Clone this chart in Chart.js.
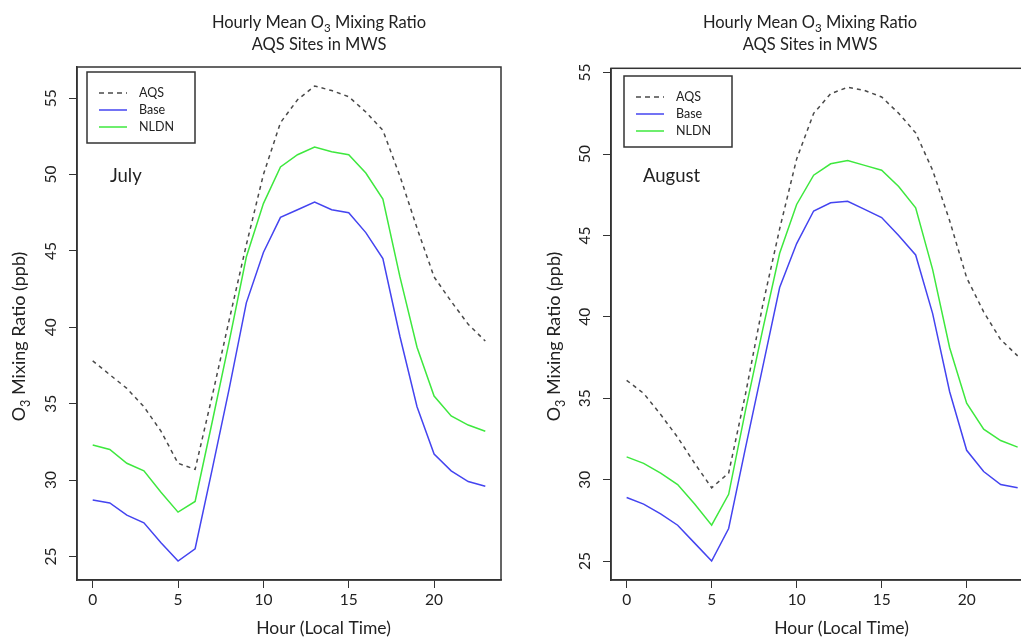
<!DOCTYPE html>
<html>
<head>
<meta charset="utf-8">
<title>Hourly Mean O3 Mixing Ratio - AQS Sites in MWS</title>
<script src="https://cdn.jsdelivr.net/npm/chart.js"></script>
<style>
  html, body { margin: 0; padding: 0; background: #fff; overflow: hidden; width: 1021px; height: 639px; }
  canvas { position: absolute; top: 0; }
  #julyChart { left: 0; }
  #augChart { left: 520px; }
</style>
</head>
<body>
<canvas id="julyChart" width="510" height="639"></canvas>
<canvas id="augChart" width="530" height="639"></canvas>
<script>
// hour of day (local time)
const hours = [0,1,2,3,4,5,6,7,8,9,10,11,12,13,14,15,16,17,18,19,20,21,22,23];
const xTicks = [0, 5, 10, 15, 20];
const yTicks = [25, 30, 35, 40, 45, 50, 55];
const seriesNames = ['AQS', 'Base', 'NLDN'];

// July, ppb
const julyAQS  = [37.8, 36.9, 36.0, 34.8, 33.2, 31.1, 30.7, 35.5, 40.5, 45.4, 50.0, 53.4, 54.9, 55.8, 55.5, 55.1, 54.1, 52.9, 49.9, 46.5, 43.3, 41.7, 40.2, 39.1];
const julyBase = [28.7, 28.5, 27.7, 27.2, 25.9, 24.7, 25.5, 30.7, 36.0, 41.6, 44.9, 47.2, 47.7, 48.2, 47.7, 47.5, 46.2, 44.5, 39.4, 34.8, 31.7, 30.6, 29.9, 29.6];
const julyNLDN = [32.3, 32.0, 31.1, 30.6, 29.2, 27.9, 28.6, 33.8, 39.1, 44.6, 48.1, 50.5, 51.3, 51.8, 51.5, 51.3, 50.1, 48.4, 43.3, 38.7, 35.5, 34.2, 33.6, 33.2];

// August, ppb
const augAQS  = [36.1, 35.3, 34.0, 32.6, 31.0, 29.5, 30.4, 35.3, 40.7, 45.4, 49.7, 52.5, 53.7, 54.1, 53.9, 53.5, 52.5, 51.3, 49.0, 45.9, 42.4, 40.3, 38.6, 37.6];
const augBase = [28.9, 28.5, 27.9, 27.2, 26.1, 25.0, 27.0, 32.0, 36.9, 41.8, 44.5, 46.5, 47.0, 47.1, 46.6, 46.1, 45.0, 43.8, 40.2, 35.4, 31.8, 30.5, 29.7, 29.5];
const augNLDN = [31.4, 31.0, 30.4, 29.7, 28.5, 27.2, 29.1, 34.3, 39.2, 43.9, 46.9, 48.7, 49.4, 49.6, 49.3, 49.0, 48.0, 46.7, 42.9, 38.1, 34.7, 33.1, 32.4, 32.0];

const FONT = 'Lato';
const INK = '#222';

// draw text made of pieces, some of them subscript, centred on x
function drawParts(ctx, parts, x, y, size) {
  const sub = size * 0.7;
  let w = 0;
  parts.forEach(p => {
    ctx.font = (p.sub ? sub : size) + 'px ' + FONT;
    w += ctx.measureText(p.t).width;
  });
  let cx = x - w / 2;
  ctx.textAlign = 'left';
  ctx.textBaseline = 'alphabetic';
  parts.forEach(p => {
    ctx.font = (p.sub ? sub : size) + 'px ' + FONT;
    ctx.fillText(p.t, cx, y + (p.sub ? size * 0.25 : 0));
    cx += ctx.measureText(p.t).width;
  });
}

const decor = {
  id: 'decor',
  afterDraw(chart, args, o) {
    const ctx = chart.ctx, a = chart.chartArea;
    ctx.save();
    // box round the plot
    ctx.strokeStyle = '#333';
    ctx.lineWidth = 1.5;
    ctx.strokeRect(a.left, a.top, a.right - a.left, a.bottom - a.top);

    ctx.fillStyle = INK;
    drawParts(ctx, [{t: 'Hourly Mean O'}, {t: '3', sub: true}, {t: ' Mixing Ratio'}], o.titleX, 27.5, 16.5);
    drawParts(ctx, [{t: 'AQS Sites in MWS'}], o.titleX, 50, 16.5);
    drawParts(ctx, [{t: 'Hour (Local Time)'}], o.xTitleX, 634, 17.5);

    ctx.save();
    ctx.translate(o.yTitleX, 336.5);
    ctx.rotate(-Math.PI / 2);
    drawParts(ctx, [{t: 'O'}, {t: '3', sub: true}, {t: ' Mixing Ratio (ppb)'}], 0, 0, 18);
    ctx.restore();

    ctx.font = '18.5px ' + FONT;
    ctx.textAlign = 'left';
    ctx.fillText(o.month, o.monthX, 182);

    // legend box
    const lx = o.legendX, ly = o.legendY;
    ctx.strokeStyle = '#333';
    ctx.lineWidth = 1.5;
    ctx.strokeRect(lx, ly, 108, 71);
    ctx.font = '12.5px ' + FONT;
    ctx.textBaseline = 'middle';
    chart.data.datasets.forEach((ds, i) => {
      const ry = ly + 21 + i * 17;
      ctx.strokeStyle = ds.borderColor;
      ctx.lineWidth = ds.borderWidth;
      ctx.setLineDash(ds.borderDash ? [5, 4] : []);
      ctx.beginPath();
      ctx.moveTo(lx + 12, ry);
      ctx.lineTo(lx + 40, ry);
      ctx.stroke();
      ctx.setLineDash([]);
      ctx.fillStyle = INK;
      ctx.fillText(ds.label, lx + 52, ry);
    });
    ctx.restore();
  }
};

function points(vals) {
  return hours.map((h, i) => ({x: h, y: vals[i]}));
}

function makeChart(id, aqs, base, nldn, o) {
  const all = aqs.concat(base, nldn);
  const lo = Math.min(...all), hi = Math.max(...all);
  const ey = (hi - lo) * 0.04;
  const ex = (hours[hours.length - 1] - hours[0]) * 0.04;
  return new Chart(document.getElementById(id), {
    type: 'line',
    data: {
      datasets: [
        { label: seriesNames[0], data: points(aqs), borderColor: '#4a4a4a', borderDash: [4, 4], borderWidth: 1.5, pointRadius: 0, tension: 0 },
        { label: seriesNames[1], data: points(base), borderColor: '#4444f0', borderWidth: 1.5, pointRadius: 0, tension: 0 },
        { label: seriesNames[2], data: points(nldn), borderColor: '#3ee83e', borderWidth: 1.5, pointRadius: 0, tension: 0 }
      ]
    },
    options: {
      responsive: false,
      animation: false,
      events: [],
      layout: { padding: { top: o.padTop, right: o.padRight, left: 0, bottom: 0 } },
      plugins: {
        legend: { display: false },
        tooltip: { enabled: false },
        decor: o
      },
      scales: {
        x: {
          type: 'linear',
          min: hours[0] - ex,
          max: hours[hours.length - 1] + ex,
          afterBuildTicks: s => { s.ticks = xTicks.map(v => ({value: v})); },
          afterFit: s => { s.height = 59; },
          grid: { drawOnChartArea: false, tickLength: 8, color: '#333' },
          border: { color: '#333', width: 1.5 },
          ticks: { color: INK, font: { family: FONT, size: 15.5 }, padding: 3, maxRotation: 0, autoSkip: false }
        },
        y: {
          min: lo - ey,
          max: hi + ey,
          afterBuildTicks: s => { s.ticks = yTicks.map(v => ({value: v})); },
          afterFit: s => { s.width = o.axisW; },
          grid: { drawOnChartArea: false, tickLength: 8, color: '#333' },
          border: { color: '#333', width: 1.5 },
          ticks: { color: INK, font: { family: FONT, size: 15.5 }, padding: 9, minRotation: 90, maxRotation: 90, crossAlign: 'center', autoSkip: false }
        }
      }
    },
    plugins: [decor]
  });
}

makeChart('julyChart', julyAQS, julyBase, julyNLDN, {
  axisW: 77, padTop: 67, padRight: 9,
  titleX: 319, xTitleX: 323.5, yTitleX: 25,
  month: 'July', monthX: 110,
  legendX: 87, legendY: 72
});

makeChart('augChart', augAQS, augBase, augNLDN, {
  axisW: 91, padTop: 68.3, padRight: 16.7,
  titleX: 290, xTitleX: 321.5, yTitleX: 40,
  month: 'August', monthX: 123,
  legendX: 104, legendY: 76
});
</script>
</body>
</html>
